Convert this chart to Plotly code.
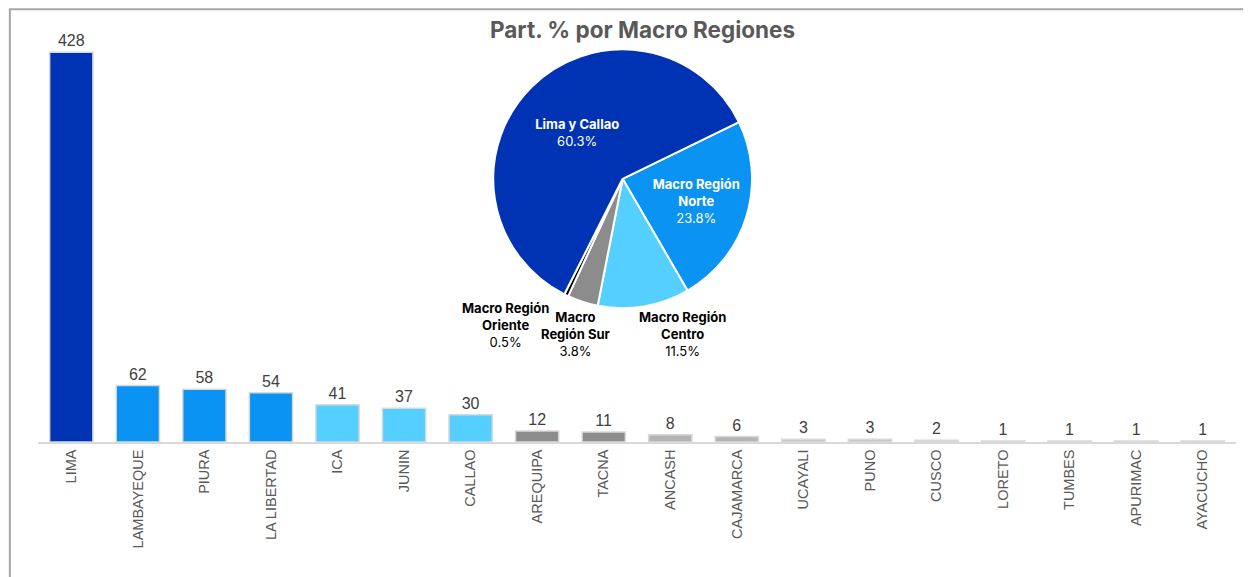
import plotly.graph_objects as go

# bar data: cases per department
departamentos = ["LIMA", "LAMBAYEQUE", "PIURA", "LA LIBERTAD", "ICA", "JUNIN", "CALLAO",
                 "AREQUIPA", "TACNA", "ANCASH", "CAJAMARCA", "UCAYALI", "PUNO", "CUSCO",
                 "LORETO", "TUMBES", "APURIMAC", "AYACUCHO"]
casos = [428, 62, 58, 54, 41, 37, 30, 12, 11, 8, 6, 3, 3, 2, 1, 1, 1, 1]
bar_colors = ["#0033B4", "#0A93F2", "#0A93F2", "#0A93F2", "#55CFFF", "#55CFFF", "#55CFFF",
              "#8C8C8C", "#8C8C8C", "#B4B4B4", "#B4B4B4", "#C8C8C8", "#C8C8C8", "#D6D6D6",
              "#D9D9D9", "#D9D9D9", "#D9D9D9", "#D9D9D9"]

# pie data: macro regions
macro_labels = ["Macro Región<br>Norte", "Macro Región<br>Centro", "Macro<br>Región Sur",
                "Macro Región<br>Oriente", "Lima y Callao"]
macro_values = [181, 87, 29, 4, 458]
macro_colors = ["#0A93F2", "#55CFFF", "#8C8C8C", "#000000", "#0033B4"]
macro_inside = [True, False, False, False, True]

total = sum(macro_values)
pie_text = [f"<b>{l}</b><br>{v / total:.1%}" if ins else ""
            for l, v, ins in zip(macro_labels, macro_values, macro_inside)]

fig = go.Figure()

fig.add_trace(go.Bar(
    x=departamentos, y=casos,
    marker=dict(color=bar_colors, line=dict(color="#D9D9D9", width=1.5)),
    text=casos, textposition="outside", cliponaxis=False,
    textfont=dict(family="Liberation Sans Narrow, Liberation Sans", size=16, color="#404040"),
    width=0.65, showlegend=False, hoverinfo="x+y",
))

fig.add_trace(go.Pie(
    labels=macro_labels, values=macro_values, sort=False,
    direction="clockwise", rotation=64,
    marker=dict(colors=macro_colors, line=dict(color="white", width=2)),
    text=pie_text, textinfo="text", textposition="inside",
    insidetextorientation="horizontal",
    insidetextfont=dict(family="Inter", size=13, color="white"),
    domain=dict(x=[0.38, 0.596], y=[0.30, 0.93]),
    showlegend=False,
))

# outside labels of the small slices
outside_pos = {"Macro Región<br>Centro": (0.538, 0.252),
               "Macro<br>Región Sur": (0.449, 0.252),
               "Macro Región<br>Oriente": (0.390, 0.273)}
for l, v in zip(macro_labels, macro_values):
    if l in outside_pos:
        px, py = outside_pos[l]
        fig.add_annotation(
            text=f"<b>{l}</b><br>{v / total:.1%}", xref="paper", yref="paper",
            x=px, y=py, xanchor="center", yanchor="middle", showarrow=False,
            font=dict(family="Inter", size=13, color="black"),
        )

fig.add_annotation(
    text="<b>Part. % por Macro Regiones</b>", xref="paper", yref="paper",
    x=0.505, y=0.963, xanchor="center", yanchor="middle", showarrow=False,
    font=dict(family="Inter", size=22.5, color="#595959"),
)

# outer frame
fig.add_shape(type="rect", xref="paper", yref="paper",
              x0=-0.0235, x1=1.0105, y0=-0.32, y1=1.011,
              line=dict(color="#A6A6A6", width=2), fillcolor="rgba(0,0,0,0)")

fig.update_xaxes(
    showline=True, linecolor="#D9D9D9", linewidth=1.5,
    tickangle=-90, tickfont=dict(family="Liberation Sans", size=14.5, color="#595959"),
    ticks="", showgrid=False,
)
fig.update_yaxes(visible=False, range=[0, 470], showgrid=False)

fig.update_layout(
    width=1243, height=569,
    margin=dict(l=30, r=15, t=6, b=135),
    plot_bgcolor="white", paper_bgcolor="white",
    bargap=0.35,
)

fig.write_html("out.html")
